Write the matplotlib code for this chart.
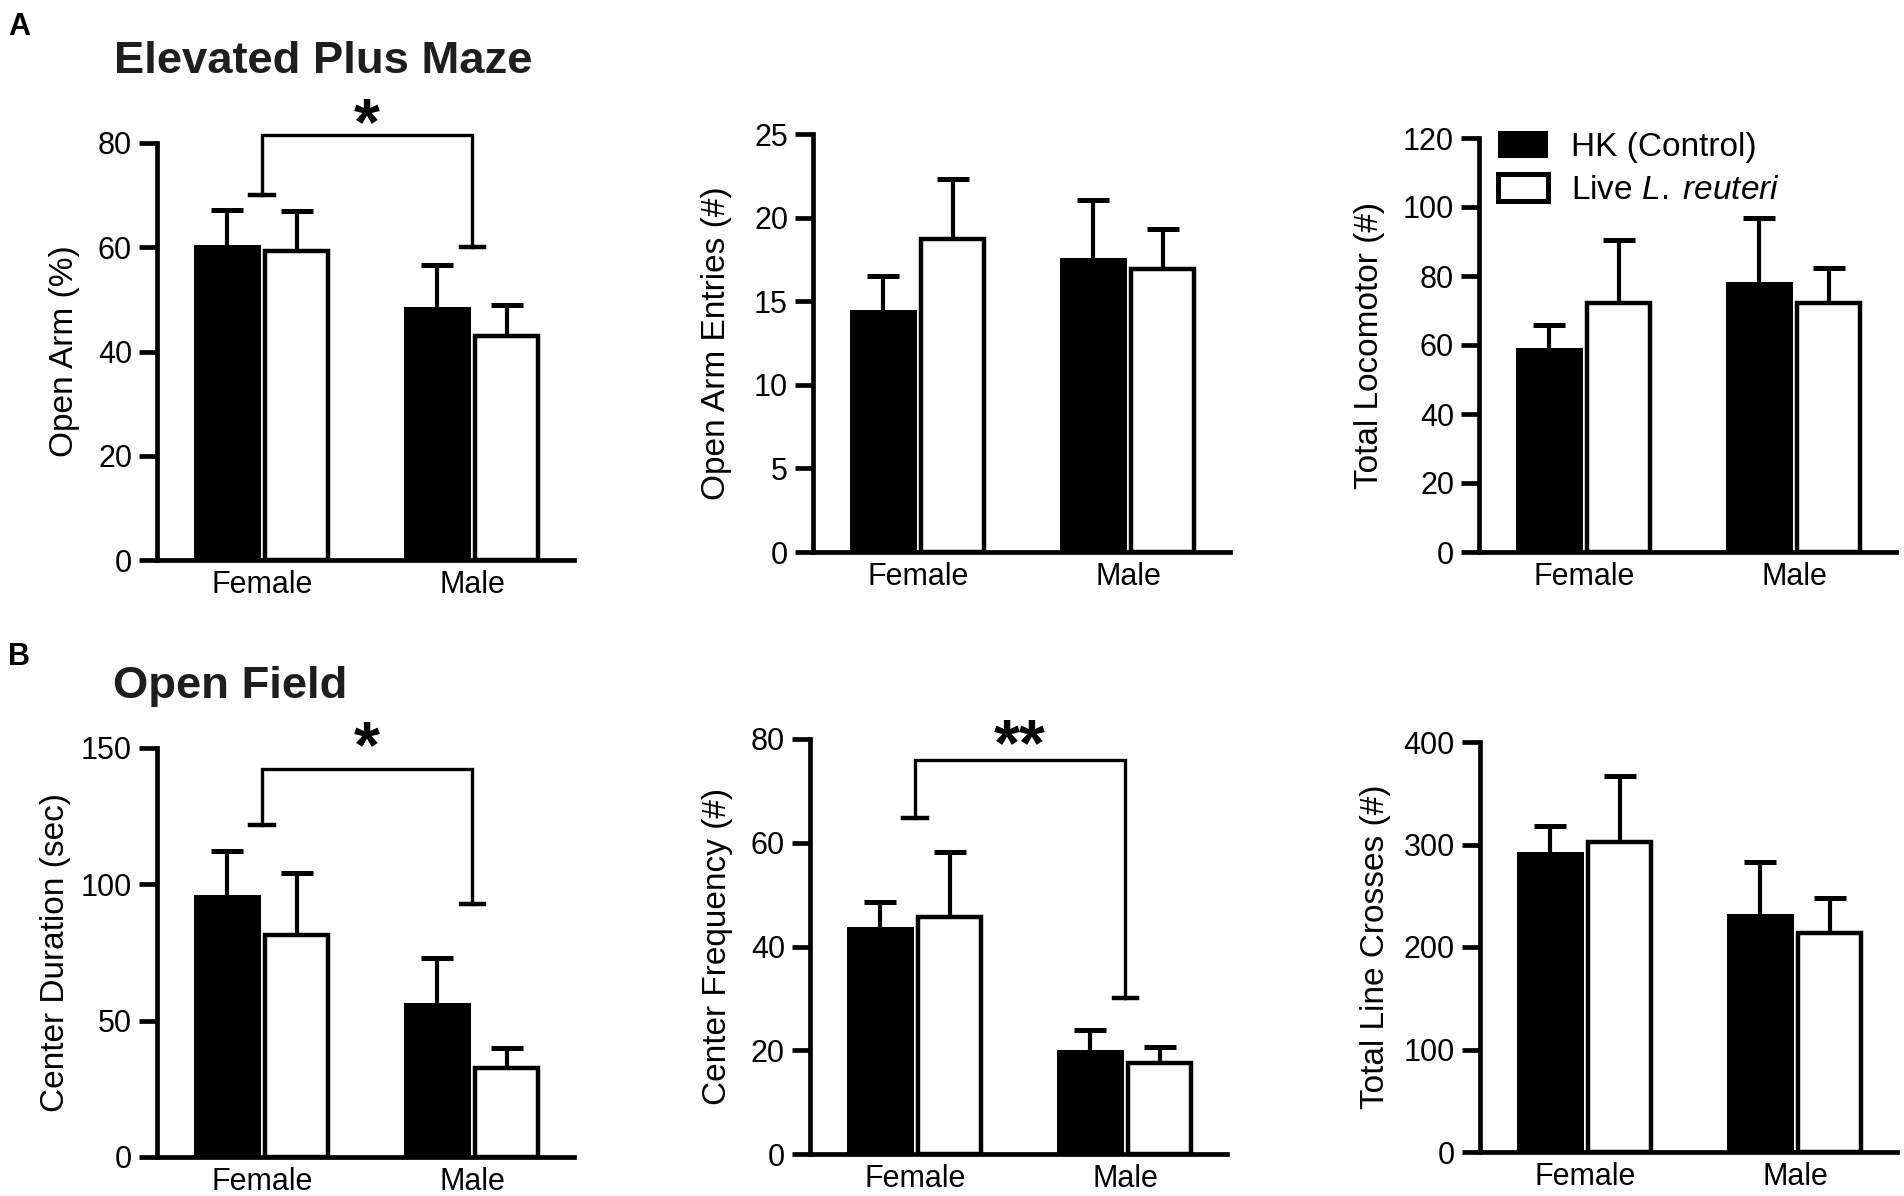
import matplotlib
matplotlib.use('Agg')
import matplotlib.pyplot as plt
import numpy as np
from matplotlib.patches import Patch

plt.rcParams['font.family'] = ['Liberation Sans', 'DejaVu Sans']
plt.rcParams['mathtext.fontset'] = 'custom'
plt.rcParams['mathtext.rm'] = 'Liberation Sans'
plt.rcParams['mathtext.it'] = 'Liberation Sans:italic'

groups = ['Female', 'Male']

# Elevated plus maze
open_arm_hk = [60.4, 48.5]
open_arm_hk_sem = [6.8, 8.0]
open_arm_live = [59.2, 43.0]
open_arm_live_sem = [7.7, 6.0]

entries_hk = [14.5, 17.6]
entries_hk_sem = [2.0, 3.45]
entries_live = [18.7, 16.9]
entries_live_sem = [3.6, 2.4]

locomotor_hk = [59.0, 78.3]
locomotor_hk_sem = [6.8, 18.5]
locomotor_live = [72.3, 72.3]
locomotor_live_sem = [18.1, 10.1]

# Open field
duration_hk = [96.2, 56.5]
duration_hk_sem = [16.0, 16.3]
duration_live = [81.6, 32.8]
duration_live_sem = [22.4, 7.2]

frequency_hk = [43.85, 20.1]
frequency_hk_sem = [4.75, 3.85]
frequency_live = [45.65, 17.5]
frequency_live_sem = [12.55, 3.2]

crosses_hk = [292.5, 232.6]
crosses_hk_sem = [25.1, 50.1]
crosses_live = [302.0, 213.4]
crosses_live_sem = [65.0, 34.5]

# significance brackets: (female leg, top, male leg, label, label y)
sig_open_arm = (70.0, 81.5, 60.0, '*', 87.2)
sig_duration = (121.6, 142.2, 92.7, '*', 157.0)
sig_frequency = (64.8, 75.9, 30.0, '**', 82.5)

W, H = 1904, 1196
fig = plt.figure(figsize=(W / 100, H / 100), dpi=100)


def px_axes(left, top, right, bottom):
    return fig.add_axes([left / W, 1 - bottom / H, (right - left) / W, (bottom - top) / H])


def upper_err(ax, x, y, err):
    zeros = np.zeros(len(groups))
    _, caps, _ = ax.errorbar(x, y, yerr=[zeros, err], fmt='none', ecolor='black',
                             elinewidth=3.0, capsize=11.5, capthick=3.6, zorder=1)
    caps[0].set_visible(False)  # only the upper cap


def draw_panel(ax, hk, hk_sem, live, live_sem, ymax, step, ylabel, pad):
    x = np.arange(len(groups))
    upper_err(ax, x - 0.165, hk, hk_sem)
    upper_err(ax, x + 0.165, live, live_sem)
    ax.bar(x - 0.165, hk, 0.32, color='black', zorder=2)
    ax.bar(x + 0.165, live, 0.30, color='white', edgecolor='black', linewidth=3.2, zorder=2)
    ax.set_xlim(-0.5, 1.485)
    ax.set_ylim(0, ymax)
    ax.set_yticks(np.arange(0, ymax + step / 2, step))
    ax.set_xticks(x, groups)
    for s in ['top', 'right']:
        ax.spines[s].set_visible(False)
    for s in ['left', 'bottom']:
        ax.spines[s].set_linewidth(3.4)
    ax.tick_params(axis='y', length=13, width=3.4, labelsize=22, pad=5)
    ax.tick_params(axis='x', length=0, labelsize=22, pad=7)
    ax.set_ylabel(ylabel, fontsize=24, labelpad=pad)


def draw_sig(ax, sig):
    lo_f, top, lo_m, label, label_y = sig
    ax.plot([0, 0, 1, 1], [lo_f, top, top, lo_m], color='black', lw=2.4,
            clip_on=False, solid_joinstyle='miter', zorder=3)
    ax.plot([-0.055, 0.055], [lo_f, lo_f], color='black', lw=3.2, clip_on=False, zorder=3)
    ax.plot([0.945, 1.055], [lo_m, lo_m], color='black', lw=3.2, clip_on=False, zorder=3)
    fs = 48
    ax.annotate(label, xy=(0.5, label_y), xytext=(0, -0.58 * fs), textcoords='offset points',
                ha='center', va='baseline', fontsize=fs, fontweight='bold', annotation_clip=False)


ax1 = px_axes(157, 143, 574, 560)
draw_panel(ax1, open_arm_hk, open_arm_hk_sem, open_arm_live, open_arm_live_sem, 80, 20,
           'Open Arm (%)', 13)
draw_sig(ax1, sig_open_arm)

ax2 = px_axes(813, 134, 1230, 552)
draw_panel(ax2, entries_hk, entries_hk_sem, entries_live, entries_live_sem, 25, 5,
           'Open Arm Entries (#)', 16)

ax3 = px_axes(1479, 138, 1896, 552)
draw_panel(ax3, locomotor_hk, locomotor_hk_sem, locomotor_live, locomotor_live_sem, 120, 20,
           'Total Locomotor (#)', 13)

ax4 = px_axes(157, 748, 574, 1157)
draw_panel(ax4, duration_hk, duration_hk_sem, duration_live, duration_live_sem, 150, 50,
           'Center Duration (sec)', 7)
draw_sig(ax4, sig_duration)

ax5 = px_axes(810, 739, 1227, 1154)
draw_panel(ax5, frequency_hk, frequency_hk_sem, frequency_live, frequency_live_sem, 80, 20,
           'Center Frequency (#)', 13)
draw_sig(ax5, sig_frequency)

ax6 = px_axes(1480, 742, 1897, 1152)
draw_panel(ax6, crosses_hk, crosses_hk_sem, crosses_live, crosses_live_sem, 400, 100,
           'Total Line Crosses (#)', 9)

handles = [Patch(facecolor='black', edgecolor='black', linewidth=0),
           Patch(facecolor='white', edgecolor='black', linewidth=3.6)]
ax3.legend(handles, ['HK (Control)', r'Live $\it{L.\;reuteri}$'], loc='upper left',
           bbox_to_anchor=(1498 / W, 1 - 131 / H), bbox_transform=fig.transFigure,
           frameon=False, fontsize=24, borderpad=0, borderaxespad=0,
           handlelength=1.5, handleheight=0.85, handletextpad=0.7, labelspacing=0.35)

fig.text(8 / W, 1 - 35 / H, 'A', fontsize=22, fontweight='bold', va='baseline')
fig.text(8 / W, 1 - 665 / H, 'B', fontsize=22, fontweight='bold', va='baseline')
fig.text(114 / W, 1 - 73 / H, 'Elevated Plus Maze', fontsize=32.7, fontweight='bold',
         va='baseline', color='#1e1e1e')
fig.text(113 / W, 1 - 698 / H, 'Open Field', fontsize=32.7, fontweight='bold',
         va='baseline', color='#1e1e1e')

fig.savefig('out.png', dpi=100, facecolor='white')
